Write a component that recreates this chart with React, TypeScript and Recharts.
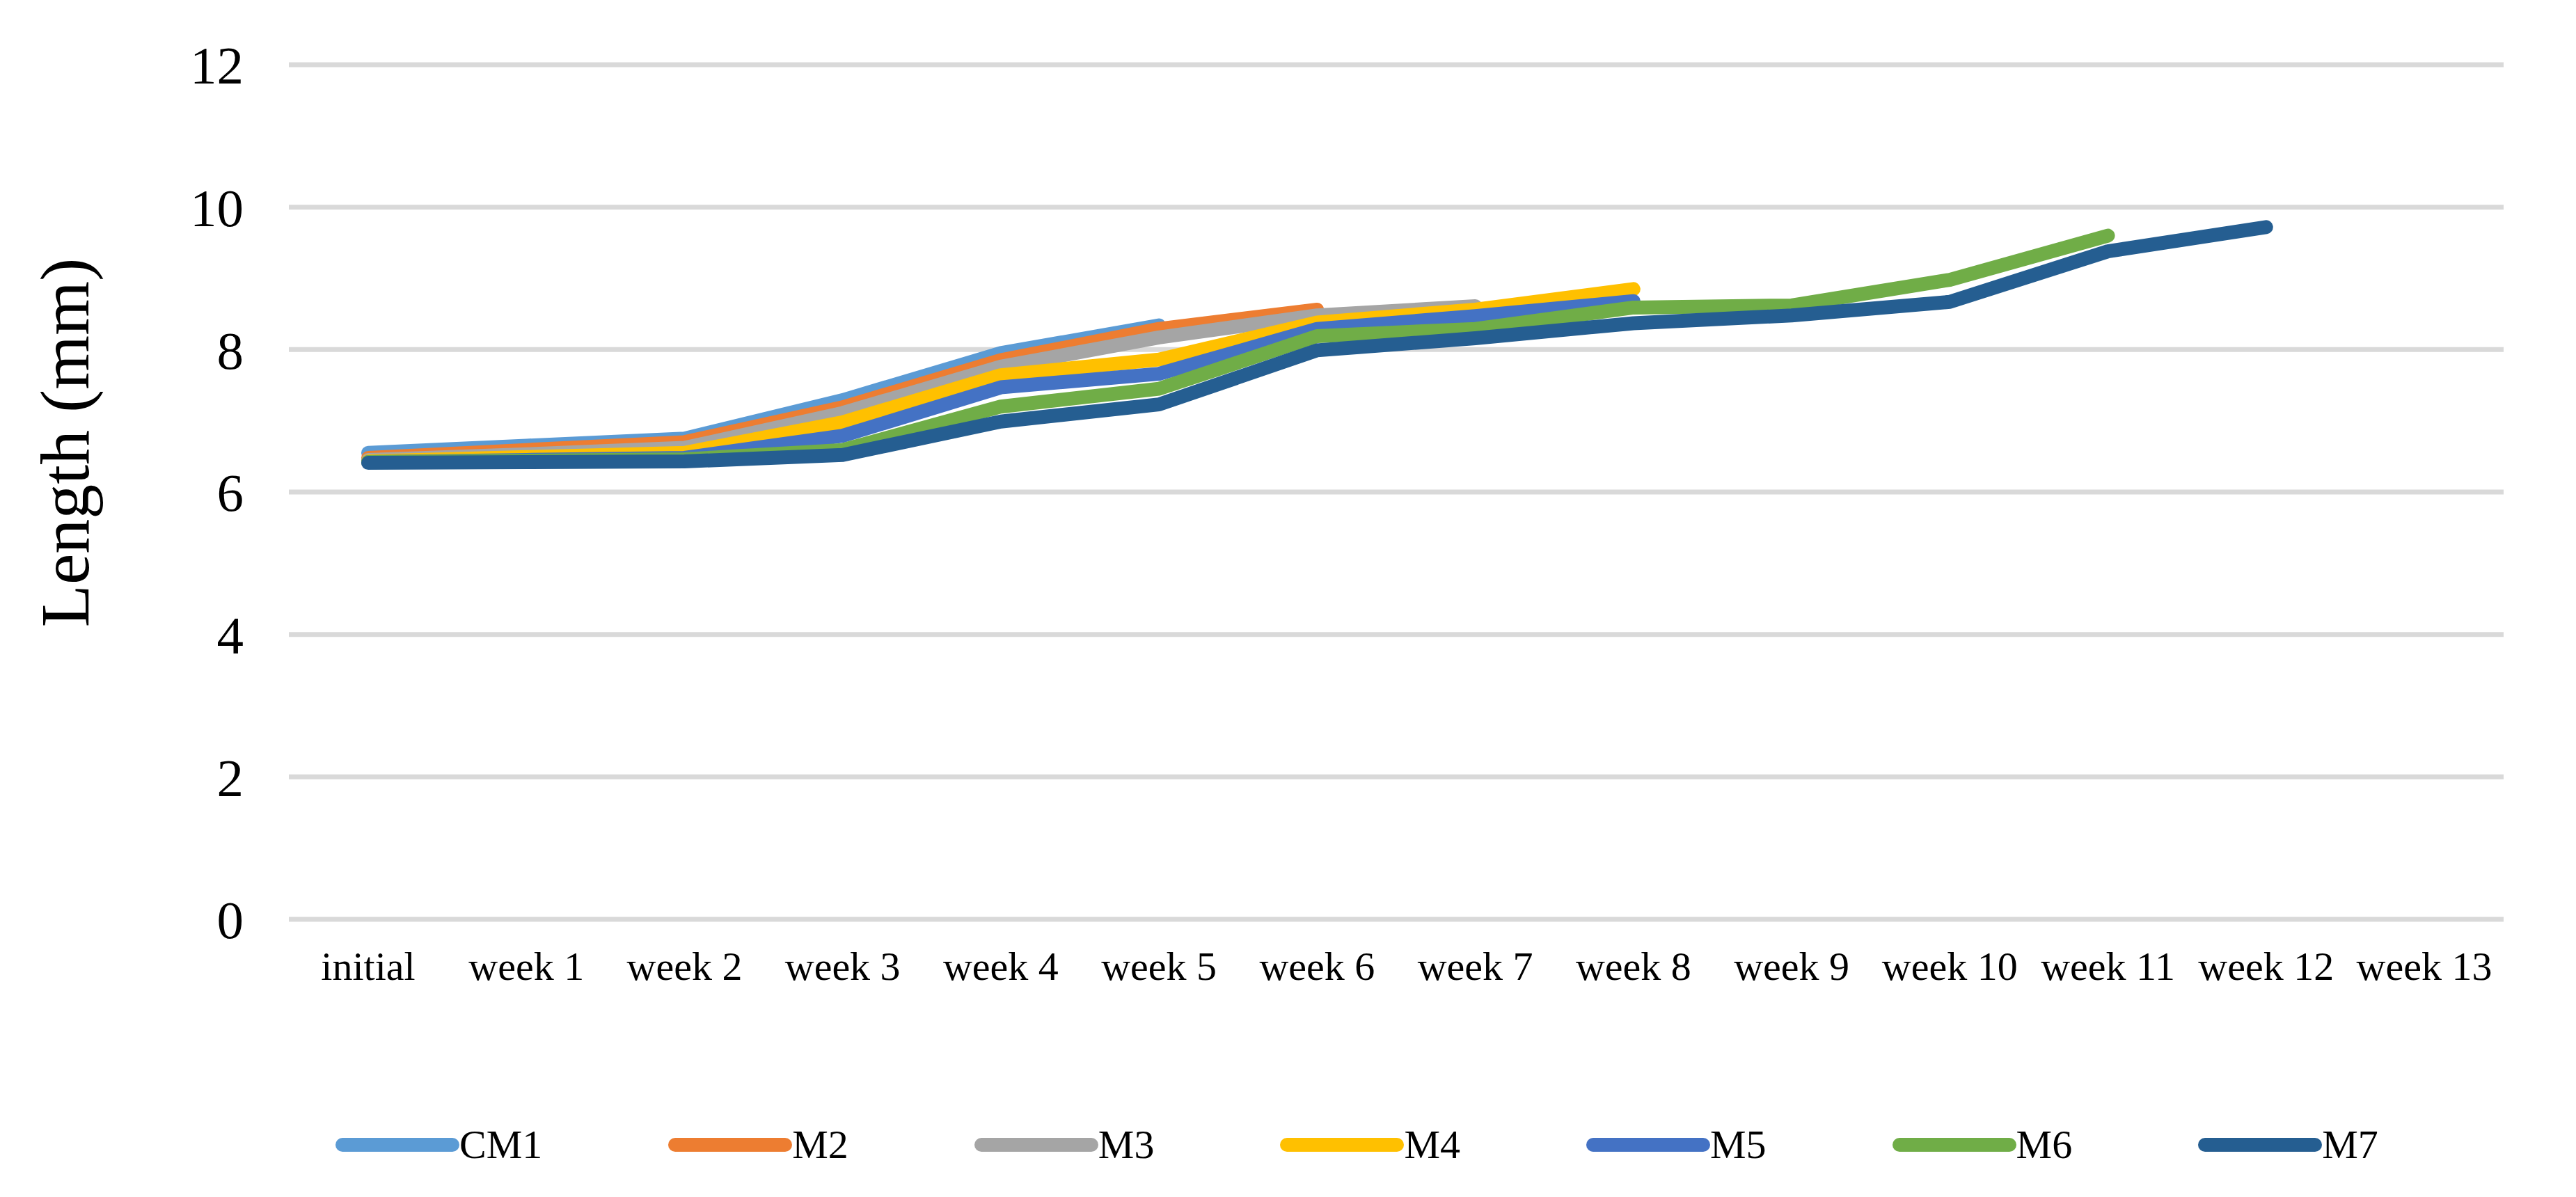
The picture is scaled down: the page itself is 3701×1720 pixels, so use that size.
import React from 'react';
import { LineChart, Line, XAxis, YAxis, CartesianGrid, Legend } from 'recharts';

const categories = ['initial', 'week 1', 'week 2', 'week 3', 'week 4', 'week 5', 'week 6', 'week 7', 'week 8', 'week 9', 'week 10', 'week 11', 'week 12', 'week 13'];

const CM1 = [6.55, 6.65, 6.75, 7.29, 7.95, 8.34];
const M2 = [6.48, 6.59, 6.70, 7.19, 7.85, 8.29, 8.56];
const M3 = [6.45, 6.53, 6.62, 7.11, 7.76, 8.17, 8.48, 8.61];
const M4 = [6.43, 6.49, 6.55, 6.98, 7.64, 7.86, 8.38, 8.56, 8.85];
const M5 = [6.42, 6.45, 6.48, 6.79, 7.47, 7.66, 8.29, 8.47, 8.68];
const M6 = [6.42, 6.44, 6.46, 6.59, 7.20, 7.45, 8.19, 8.29, 8.59, 8.62, 8.98, 9.60];
const M7 = [6.41, 6.42, 6.43, 6.52, 6.99, 7.23, 7.99, 8.16, 8.37, 8.48, 8.67, 9.38, 9.72];

const yTicks = [0, 2, 4, 6, 8, 10, 12];

const seriesList = [
  { name: 'CM1', values: CM1, color: '#5B9BD5' },
  { name: 'M2', values: M2, color: '#ED7D31' },
  { name: 'M3', values: M3, color: '#A5A5A5' },
  { name: 'M4', values: M4, color: '#FFC000' },
  { name: 'M5', values: M5, color: '#4472C4' },
  { name: 'M6', values: M6, color: '#70AD47' },
  { name: 'M7', values: M7, color: '#255E91' },
];

const data = categories.map((c, i) => {
  const row: Record<string, any> = { category: c };
  seriesList.forEach((s) => {
    row[s.name] = i < s.values.length ? s.values[i] : null;
  });
  return row;
});

const FONT = '"Liberation Serif", "Times New Roman", serif';

const renderLegend = (props: any) => {
  const { payload } = props;
  return (
    <div style={{ display: 'flex', paddingLeft: 482, fontFamily: FONT }}>
      {payload.map((entry: any) => (
        <div key={entry.value} style={{ marginRight: 181, display: 'flex', alignItems: 'center', flex: '0 0 auto' }}>
          <span style={{ display: 'inline-block', width: 178, height: 20, borderRadius: 10, background: entry.color }} />
          <span style={{ fontSize: 58, lineHeight: 'normal', color: '#000', whiteSpace: 'nowrap' }}>{entry.value}</span>
        </div>
      ))}
    </div>
  );
};

const YTitle = (props: any) => {
  const vb = props.viewBox;
  const x = vb.x + 127;
  const y = vb.y + vb.height / 2 - 71;
  return (
    <text x={x} y={y} transform={`rotate(-90, ${x}, ${y})`} textAnchor="middle" fontFamily={FONT} fontSize={100} fill="#000">
      Length (mm)
    </text>
  );
};

export default function App() {
  return (
    <div style={{ position: 'absolute', left: 0, top: 0, width: 3701, height: 1720, background: '#fff' }}>
      <LineChart width={3701} height={1720} data={data} margin={{ top: 93, right: 104, left: 0, bottom: 299 }}>
        <CartesianGrid horizontal={true} vertical={false} stroke="#D9D9D9" strokeWidth={7} />
        <XAxis
          dataKey="category"
          padding={{ left: 114, right: 114 }}
          axisLine={false}
          tickLine={false}
          tickSize={0}
          tickMargin={46}
          height={100}
          interval={0}
          tick={{ fontFamily: FONT, fontSize: 58, fill: '#000' }}
        />
        <YAxis
          domain={[0, 12]}
          ticks={yTicks}
          width={415}
          axisLine={false}
          tickLine={false}
          tickSize={0}
          tickMargin={65}
          tick={{ fontFamily: FONT, fontSize: 77, fill: '#000' }}
          label={{ content: <YTitle /> }}
        />
        <Legend
          content={renderLegend}
          layout="horizontal"
          verticalAlign="middle"
          align="center"
          wrapperStyle={{ position: 'absolute', left: 0, top: 1611, width: 3701 }}
        />
        {seriesList.map((s) => (
          <Line
            key={s.name}
            type="linear"
            dataKey={s.name}
            name={s.name}
            stroke={s.color}
            strokeWidth={20}
            strokeLinecap="round"
            strokeLinejoin="round"
            dot={false}
            activeDot={false}
            isAnimationActive={false}
            connectNulls={false}
          />
        ))}
      </LineChart>
    </div>
  );
}
